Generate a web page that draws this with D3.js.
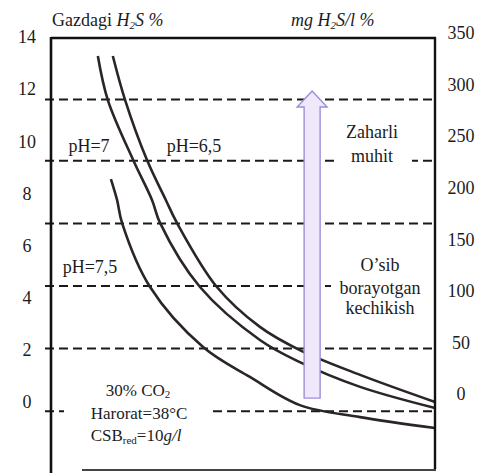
<!DOCTYPE html>
<html>
<head>
<meta charset="utf-8">
<script src="https://cdn.jsdelivr.net/npm/d3@7"></script>
</head>
<body>
<div id="chart"></div>
<script>
// left axis ticks (Gazdagi H2S %) and right axis ticks (mg H2S/l %)
var leftTicks = [0, 2, 4, 6, 8, 10, 12, 14];
var rightTicks = [0, 50, 100, 150, 200, 250, 300, 350];

// dashed reference levels, in left-axis units
var dashLevels = [11.6, 9.25, 6.85, 4.45, 2.05, -0.35];

// curves, x in arbitrary units 0..10, y in left-axis units
var ph7_x = [1.22, 1.48, 2.14, 2.63, 2.84, 3.88, 5.44, 6.48, 8.05, 10.0];
var ph7_y = [13.27, 11.58, 9.28, 7.75, 6.87, 4.41, 2.38, 1.53, 0.58, -0.23];
var ph65_x = [1.61, 1.93, 2.50, 2.99, 3.28, 4.32, 5.44, 6.48, 8.05, 10.0];
var ph65_y = [13.27, 11.58, 9.28, 7.75, 6.87, 4.41, 2.88, 1.99, 1.04, 0.0];
var ph75_x = [1.56, 1.72, 1.85, 2.58, 3.96, 5.18, 6.48, 8.05, 10.0];
var ph75_y = [8.55, 7.75, 6.87, 4.41, 2.11, 0.96, -0.12, -0.58, -1.0];

// arrow (x position, bottom and tip in left-axis units)
var arrowX = 6.8, arrowBottom = 0.15, arrowTip = 11.93;

var W = 479, H = 473;
var INK = "#1c1c1c";
var FS = 18;
function serif() { return "'Liberation Serif'"; }

d3.select("body").style("margin", "0px");
var svg = d3.select("#chart").append("svg")
  .attr("width", W).attr("height", H)
  .style("display", "block");

var pLeft = 51, pRight = 435, pTop = 38, pBottom = 470;

var x = d3.scaleLinear().domain([0, 10]).range([pLeft, pRight]);
var yL = d3.scaleLinear().domain([0, 14]).range([402, 37]);
var yR = d3.scaleLinear().domain([0, 350]).range([394, 33]);

// dashed lines
svg.selectAll(".dash")
  .data(dashLevels)
  .enter().append("line")
    .attr("x1", pLeft - 6).attr("x2", pRight)
    .attr("y1", function(d) { return yL(d); })
    .attr("y2", function(d) { return yL(d); })
    .attr("stroke", "#1a1a1a")
    .attr("stroke-width", 2)
    .attr("stroke-dasharray", "9,5");

// white patches under the annotation text (gaps in dashed lines)
svg.append("rect").attr("x", 338).attr("y", 118).attr("width", 74).attr("height", 52).attr("fill", "#fff");
svg.append("rect").attr("x", 331).attr("y", 252).attr("width", 102).attr("height", 66).attr("fill", "#fff");
svg.append("rect").attr("x", 64).attr("y", 380).attr("width", 148).attr("height", 64).attr("fill", "#fff");

// curves
var line = d3.line()
  .x(function(d) { return x(d[0]); })
  .y(function(d) { return yL(d[1]); })
  .curve(d3.curveCatmullRom.alpha(0.5));

var curves = [d3.zip(ph7_x, ph7_y), d3.zip(ph65_x, ph65_y), d3.zip(ph75_x, ph75_y)];
svg.selectAll(".curve")
  .data(curves)
  .enter().append("path")
    .attr("d", line)
    .attr("fill", "none")
    .attr("stroke", "#2b2526")
    .attr("stroke-width", 2.6);

// arrow
var ax = x(arrowX), ab = yL(arrowBottom), at = yL(arrowTip);
var sw = 8, hw = 15, hh = 16;
svg.append("path")
  .attr("d", "M" + (ax - sw) + "," + ab +
    "L" + (ax - sw) + "," + (at + hh) +
    "L" + (ax - hw) + "," + (at + hh) +
    "L" + ax + "," + at +
    "L" + (ax + hw) + "," + (at + hh) +
    "L" + (ax + sw) + "," + (at + hh) +
    "L" + (ax + sw) + "," + ab + "Z")
  .attr("fill", "#efe8fa")
  .attr("stroke", "#9b8fd8")
  .attr("stroke-width", 1.4);

// axis labels, drawn as plain texts placed by the scales
svg.selectAll(".ltick")
  .data(leftTicks)
  .enter().append("text")
    .attr("x", pLeft - 24)
    .attr("y", function(d) { return yL(d); })
    .attr("dy", "0.35em")
    .attr("text-anchor", "middle")
    .attr("font-family", serif)
    .attr("font-size", FS)
    .attr("fill", INK)
    .text(function(d) { return d; });

svg.selectAll(".rtick")
  .data(rightTicks)
  .enter().append("text")
    .attr("x", pRight + 26)
    .attr("y", function(d) { return yR(d); })
    .attr("dy", "0.35em")
    .attr("text-anchor", "middle")
    .attr("font-family", serif)
    .attr("font-size", FS)
    .attr("fill", INK)
    .text(function(d) { return d; });

// frame
svg.append("line").attr("x1", pLeft).attr("x2", pLeft).attr("y1", pTop - 1).attr("y2", H)
  .attr("stroke", "#111").attr("stroke-width", 2.6);
svg.append("line").attr("x1", pLeft).attr("x2", pRight + 1).attr("y1", pTop).attr("y2", pTop)
  .attr("stroke", "#111").attr("stroke-width", 2.6);
svg.append("line").attr("x1", pRight).attr("x2", pRight).attr("y1", pTop - 1).attr("y2", 469)
  .attr("stroke", "#111").attr("stroke-width", 2.4);
svg.append("line").attr("x1", 82).attr("x2", pRight + 1).attr("y1", pBottom).attr("y2", pBottom)
  .attr("stroke", "#444").attr("stroke-width", 1.8);

// titles
var t1 = svg.append("text").attr("x", 52).attr("y", 26)
  .attr("fill", INK).attr("font-family", serif).attr("font-size", FS);
t1.append("tspan").text("Gazdagi ");
t1.append("tspan").attr("font-style", "italic").text("H");
t1.append("tspan").attr("font-style", "italic").attr("font-size", 11).attr("dy", 3).text("2");
t1.append("tspan").attr("font-style", "italic").attr("dy", -3).text("S %");

var t2 = svg.append("text").attr("x", 291).attr("y", 26)
  .attr("fill", INK).attr("font-family", serif).attr("font-size", FS).attr("font-style", "italic");
t2.append("tspan").text("mg H");
t2.append("tspan").attr("font-size", 11).attr("dy", 3).text("2");
t2.append("tspan").attr("dy", -3).text("S/l %");

// curve labels and notes
function label(txt, cx, cy, fs) {
  return svg.append("text").attr("x", cx).attr("y", cy)
    .attr("fill", INK).attr("font-family", serif).attr("font-size", fs || FS)
    .attr("text-anchor", "middle").text(txt);
}
label("pH=7", 89, 152);
label("pH=6,5", 194, 152);
label("pH=7,5", 90, 273);
label("Zaharli", 372, 138);
label("muhit", 372, 162);
label("O\u2019sib", 380, 271);
label("borayotgan", 380, 294);
label("kechikish", 380, 314);
label("Harorat=38\u00b0C", 139, 419, 17);

var c1 = label("", 138, 396, 17);
c1.append("tspan").text("30% CO");
c1.append("tspan").attr("font-size", 11).attr("dy", 2).text("2");

var c3 = label("", 136, 441, 17);
c3.append("tspan").text("CSB");
c3.append("tspan").attr("font-size", 11).attr("dy", 3).text("red");
c3.append("tspan").attr("dy", -3).text("=10");
c3.append("tspan").attr("font-style", "italic").text("g/l");
</script>
</body>
</html>
